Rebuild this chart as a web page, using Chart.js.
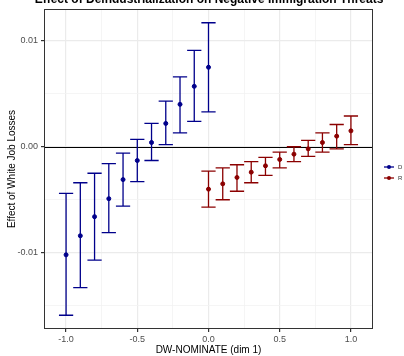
<!DOCTYPE html>
<html>
<head>
<meta charset="utf-8">
<script src="https://cdn.jsdelivr.net/npm/chart.js@4/dist/chart.umd.min.js"></script>
<style>
  html, body { margin: 0; padding: 0; background: #fff; }
  #wrap { width: 404px; height: 356px; position: relative; }
</style>
</head>
<body>
<div id="wrap"><canvas id="chart" width="404" height="356"></canvas></div>
<script>
const title = 'Effect of Deindustrialization on Negative Immigration Threats';
const xTitle = 'DW-NOMINATE (dim 1)';
const yTitle = 'Effect of White Job Losses';

// Democrats
const xD = [-1.0, -0.9, -0.8, -0.7, -0.6, -0.5, -0.4, -0.3, -0.2, -0.1, 0.0];
const dEst = [-0.0102, -0.0084, -0.0066, -0.0049, -0.0031, -0.0013, 0.0004, 0.0022, 0.0040, 0.0057, 0.0075];
const dLow = [-0.0159, -0.0133, -0.0107, -0.0081, -0.0056, -0.0033, -0.0013, 0.0002, 0.0013, 0.0024, 0.0033];
const dHigh = [-0.0044, -0.0034, -0.0025, -0.0016, -0.0006, 0.0007, 0.0022, 0.0043, 0.0066, 0.0091, 0.0117];

// Republicans
const xR = [0.0, 0.1, 0.2, 0.3, 0.4, 0.5, 0.6, 0.7, 0.8, 0.9, 1.0];
const rEst = [-0.0040, -0.0035, -0.0029, -0.0024, -0.0018, -0.0012, -0.0007, -0.0002, 0.0004, 0.0010, 0.0015];
const rLow = [-0.0057, -0.0050, -0.0042, -0.0034, -0.0027, -0.0020, -0.0014, -0.0009, -0.0005, -0.0002, 0.0002];
const rHigh = [-0.0023, -0.0020, -0.0017, -0.0014, -0.0010, -0.0005, 0.0000, 0.0006, 0.0013, 0.0021, 0.0029];

const xTicks = [-1.0, -0.75, -0.5, -0.25, 0.0, 0.25, 0.5, 0.75, 1.0];
const yTicks = [-0.015, -0.01, -0.005, 0.0, 0.005, 0.01];
const xMajor = [-1.0, -0.5, 0.0, 0.5, 1.0];
const yMajor = [-0.01, 0.0, 0.01];

const blue = '#00008B';
const red = '#8B0000';
const capHalf = 0.05;

function isMajor(list, v) {
  return list.some(m => Math.abs(m - v) < 1e-9);
}

function pts(xs, ys) {
  return xs.map((x, i) => ({ x: x, y: ys[i] }));
}

const errorBars = {
  id: 'errorBars',
  beforeDatasetsDraw(chart) {
    const { ctx, chartArea, scales: { x, y } } = chart;
    // zero line
    ctx.save();
    ctx.strokeStyle = '#000';
    ctx.lineWidth = 1;
    const y0 = Math.round(y.getPixelForValue(0)) + 0.5;
    ctx.beginPath();
    ctx.moveTo(chartArea.left, y0);
    ctx.lineTo(chartArea.right, y0);
    ctx.stroke();
    const sets = [[xD, dLow, dHigh, blue], [xR, rLow, rHigh, red]];
    ctx.lineWidth = 1.3;
    sets.forEach(([xs, lo, hi, col]) => {
      ctx.strokeStyle = col;
      xs.forEach((xv, i) => {
        const px = x.getPixelForValue(xv);
        const pl = x.getPixelForValue(xv - capHalf);
        const pr = x.getPixelForValue(xv + capHalf);
        const yl = y.getPixelForValue(lo[i]);
        const yh = y.getPixelForValue(hi[i]);
        ctx.beginPath();
        ctx.moveTo(px, yl); ctx.lineTo(px, yh);
        ctx.moveTo(pl, yl); ctx.lineTo(pr, yl);
        ctx.moveTo(pl, yh); ctx.lineTo(pr, yh);
        ctx.stroke();
      });
    });
    ctx.restore();
  },
  afterDraw(chart) {
    const { ctx, chartArea } = chart;
    ctx.save();
    // panel border
    ctx.strokeStyle = '#333333';
    ctx.lineWidth = 1;
    ctx.strokeRect(Math.round(chartArea.left) + 0.5, Math.round(chartArea.top) + 0.5,
      Math.round(chartArea.right - chartArea.left) - 1, Math.round(chartArea.bottom - chartArea.top) - 1);
    // title (clipped at the top as in the source)
    ctx.fillStyle = '#000';
    ctx.font = 'bold 12px "Liberation Sans", Arial, sans-serif';
    ctx.textAlign = 'center';
    ctx.textBaseline = 'alphabetic';
    ctx.fillText(title, 209, 3);
    // legend
    ctx.font = '6px "Liberation Sans", Arial, sans-serif';
    ctx.textAlign = 'left';
    ctx.textBaseline = 'middle';
    chart.data.datasets.forEach((ds, i) => {
      const cy = 167 + i * 11;
      ctx.strokeStyle = ds.borderColor;
      ctx.lineWidth = 1.3;
      ctx.beginPath();
      ctx.moveTo(384, cy); ctx.lineTo(394, cy);
      ctx.stroke();
      ctx.fillStyle = ds.backgroundColor;
      ctx.beginPath();
      ctx.arc(389, cy, 2, 0, Math.PI * 2);
      ctx.fill();
      ctx.fillStyle = '#333';
      ctx.fillText(ds.label, 398, cy);
    });
    ctx.restore();
  }
};

new Chart(document.getElementById('chart'), {
  type: 'scatter',
  data: {
    datasets: [
      { label: 'D', data: pts(xD, dEst), backgroundColor: blue, borderColor: blue, pointRadius: 2, pointHoverRadius: 2 },
      { label: 'R', data: pts(xR, rEst), backgroundColor: red, borderColor: red, pointRadius: 2, pointHoverRadius: 2 }
    ]
  },
  options: {
    responsive: false,
    animation: false,
    layout: { padding: { left: 0, right: 31, top: 9, bottom: 0 } },
    plugins: {
      legend: { display: false },
      tooltip: { enabled: false }
    },
    scales: {
      x: {
        type: 'linear',
        min: -1.155,
        max: 1.155,
        afterBuildTicks: s => { s.ticks = xTicks.map(v => ({ value: v })); },
        afterFit: s => { s.height = 27; },
        border: { display: false },
        grid: {
          color: c => isMajor(xMajor, c.tick.value) ? '#ebebeb' : '#f3f3f3',
          lineWidth: c => isMajor(xMajor, c.tick.value) ? 1.2 : 0.8,
          tickColor: c => isMajor(xMajor, c.tick.value) ? '#333333' : 'rgba(0,0,0,0)',
          tickLength: 3
        },
        ticks: {
          autoSkip: false,
          maxRotation: 0,
          padding: 2,
          color: '#4d4d4d',
          font: { size: 9, family: '"Liberation Sans", Arial, sans-serif' },
          callback: v => isMajor(xMajor, v) ? v.toFixed(1) : ''
        },
        title: {
          display: true,
          text: xTitle,
          color: '#000',
          padding: { top: 0, bottom: 0 },
          font: { size: 10, family: '"Liberation Sans", Arial, sans-serif' }
        }
      },
      y: {
        type: 'linear',
        min: -0.0172,
        max: 0.0130,
        afterBuildTicks: s => { s.ticks = yTicks.map(v => ({ value: v })); },
        afterFit: s => { s.width = 44; },
        border: { display: false },
        grid: {
          color: c => isMajor(yMajor, c.tick.value) ? '#ebebeb' : '#f3f3f3',
          lineWidth: c => isMajor(yMajor, c.tick.value) ? 1.2 : 0.8,
          tickColor: c => isMajor(yMajor, c.tick.value) ? '#333333' : 'rgba(0,0,0,0)',
          tickLength: 3
        },
        ticks: {
          autoSkip: false,
          padding: 3,
          color: '#4d4d4d',
          font: { size: 9, family: '"Liberation Sans", Arial, sans-serif' },
          callback: v => isMajor(yMajor, v) ? v.toFixed(2) : ''
        },
        title: {
          display: true,
          text: yTitle,
          color: '#000',
          padding: { top: 6, bottom: 0 },
          font: { size: 10, family: '"Liberation Sans", Arial, sans-serif' }
        }
      }
    }
  },
  plugins: [errorBars]
});
</script>
</body>
</html>
